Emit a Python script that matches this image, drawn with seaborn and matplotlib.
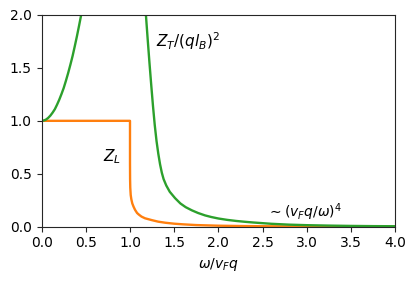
import matplotlib
matplotlib.use("Agg")
import matplotlib.pyplot as plt
import seaborn as sns
import pandas as pd

# Z_L (longitudinal)
zl_x = [0.0, 0.5, 1.0, 1.0, 1.001, 1.003, 1.008, 1.015, 1.026, 1.04, 1.057, 1.08, 1.1,
        1.13, 1.17, 1.25, 1.32, 1.4, 1.5, 1.6, 1.75, 2.0, 2.25, 2.5, 3.0, 3.5, 4.0]
zl_y = [1.0, 1.0, 1.0, 0.6, 0.45, 0.37, 0.3, 0.26, 0.22, 0.19, 0.16, 0.13, 0.115,
        0.096, 0.08, 0.062, 0.048, 0.038, 0.029, 0.023, 0.016, 0.01, 0.007, 0.005, 0.003, 0.002, 0.001]

# Z_T/(q l_B)^2, rama izquierda
zt1_x = [0.0, 0.025, 0.05, 0.075, 0.1, 0.125, 0.15, 0.175, 0.2, 0.225, 0.25, 0.275, 0.3,
         0.325, 0.35, 0.375, 0.4, 0.425, 0.45, 0.47]
zt1_y = [1.0, 1.003, 1.012, 1.028, 1.05, 1.078, 1.11, 1.153, 1.2, 1.253, 1.31, 1.378, 1.45,
         1.528, 1.61, 1.703, 1.8, 1.903, 2.01, 2.1]

# rama derecha
zt2_x = [1.17, 1.18, 1.2, 1.22, 1.24, 1.26, 1.28, 1.3, 1.32, 1.34, 1.36, 1.38, 1.41, 1.45,
         1.51, 1.57, 1.63, 1.7, 1.77, 1.85, 1.92, 2.0, 2.1, 2.2, 2.3, 2.4, 2.5, 2.6, 2.8,
         3.0, 3.25, 3.5, 3.75, 4.0]
zt2_y = [2.1, 2.0, 1.77, 1.55, 1.34, 1.14, 0.96, 0.81, 0.69, 0.59, 0.51, 0.45, 0.39, 0.33,
         0.27, 0.22, 0.185, 0.155, 0.13, 0.107, 0.092, 0.078, 0.065, 0.055, 0.047, 0.04, 0.034,
         0.028, 0.02, 0.015, 0.011, 0.008, 0.006, 0.005]

sns.set_style("ticks")
plt.rcParams["font.family"] = ["DejaVu Sans"]
plt.rcParams["text.color"] = "black"

fig = plt.figure(figsize=(4.16, 2.81), dpi=100)
ax = fig.add_axes([0.1, 0.193, 0.85, 0.754])

df_l = pd.DataFrame({"x": zl_x, "y": zl_y})
df_t1 = pd.DataFrame({"x": zt1_x, "y": zt1_y})
df_t2 = pd.DataFrame({"x": zt2_x, "y": zt2_y})

sns.lineplot(data=df_l, x="x", y="y", sort=False, estimator=None, color="tab:orange", lw=1.7, ax=ax)
sns.lineplot(data=df_t1, x="x", y="y", sort=False, estimator=None, color="tab:green", lw=1.7, ax=ax)
sns.lineplot(data=df_t2, x="x", y="y", sort=False, estimator=None, color="tab:green", lw=1.7, ax=ax)

ax.set_xlim(0, 4)
ax.set_ylim(0, 2)
ax.set_xticks([0, 0.5, 1, 1.5, 2, 2.5, 3, 3.5, 4])
ax.set_yticks([0, 0.5, 1, 1.5, 2])
ax.set_xlabel(r"$\omega/v_Fq$", fontsize=10, color="black")
ax.set_ylabel("")
ax.tick_params(labelsize=10, labelcolor="black")

ax.text(1.29, 1.75, r"$Z_T/(ql_B)^2$", fontsize=11, va="center", color="black")
ax.text(0.7, 0.66, r"$Z_L$", fontsize=11, va="center", color="black")
ax.text(2.55, 0.14, r"$\sim(v_Fq/\omega)^4$", fontsize=10, va="center", color="black")

fig.savefig("out.png", dpi=100)
